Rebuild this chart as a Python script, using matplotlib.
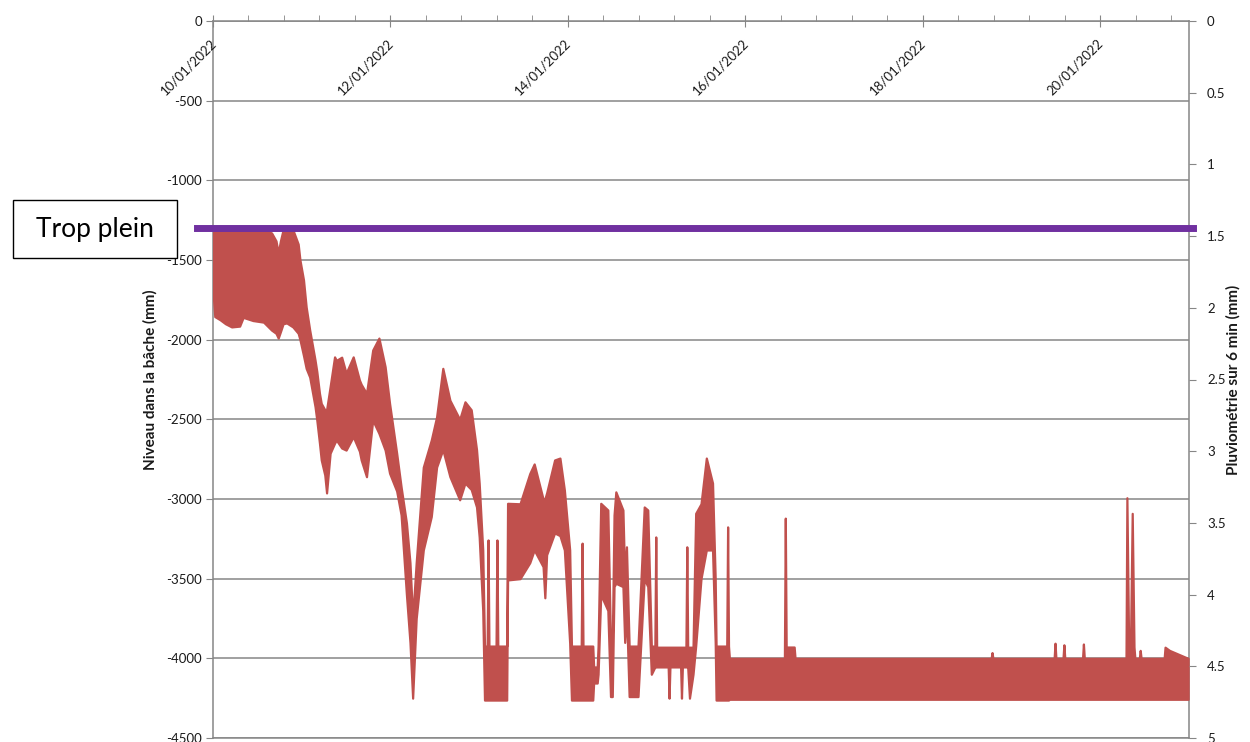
import matplotlib
matplotlib.use('Agg')
import matplotlib.pyplot as plt
import matplotlib.dates as mdates
from matplotlib.patches import Rectangle
from matplotlib.transforms import offset_copy
import numpy as np
from datetime import datetime

plt.rcParams['font.family'] = ['Lato', 'DejaVu Sans']

# Données (jours depuis le 10/01/2022 00:00)
# enveloppe haute / basse du niveau mesuré
debut = datetime(2022, 1, 10)
fin = datetime(2022, 1, 21)

jours = [0.00, 0.02, 0.08, 0.14, 0.21, 0.30, 0.34, 0.45, 0.57, 0.66, 0.71, 0.735, 0.76, 0.79, 0.83, 0.90, 0.96, 0.98,
         1.02, 1.05, 1.09, 1.15, 1.17, 1.20, 1.22, 1.26, 1.28, 1.32, 1.37, 1.39, 1.45, 1.50, 1.58, 1.65, 1.67, 1.73,
         1.80, 1.87, 1.94, 1.99, 2.07, 2.12, 2.18, 2.22, 2.25, 2.29, 2.37, 2.46, 2.52, 2.59, 2.67, 2.78, 2.84, 2.91,
         2.97, 3.00, 3.04, 3.06, 3.09, 3.10, 3.11, 3.19, 3.20, 3.21, 3.31, 3.32, 3.46, 3.57, 3.62, 3.72, 3.74, 3.76,
         3.85, 3.91, 3.96, 4.02, 4.04, 4.15, 4.16, 4.17, 4.28, 4.29, 4.33, 4.34, 4.37, 4.45, 4.48, 4.50, 4.52, 4.54,
         4.62, 4.64, 4.66, 4.69, 4.79, 4.86, 4.90, 4.94, 4.98, 4.99, 5.00, 5.13, 5.14, 5.15, 5.27, 5.28, 5.29, 5.33,
         5.34, 5.35, 5.37, 5.41, 5.44, 5.50, 5.56, 5.63, 5.66, 5.67, 5.79, 5.80, 5.81,
         5.82, 6.44, 6.45, 6.46, 6.55, 6.56, 8.77, 8.78, 8.79, 9.48, 9.49, 9.50, 9.58, 9.59, 9.60,
         9.80, 9.81, 9.82, 10.29, 10.30, 10.32, 10.34, 10.36, 10.38, 10.39, 10.44, 10.45, 10.46,
         10.72, 10.73, 10.78, 10.99]

niveau_haut = [-1310, -1310, -1310, -1310, -1310, -1310, -1310, -1310, -1310, -1330, -1380, -1456, -1380, -1310, -1310, -1310, -1400, -1500,
               -1625, -1795, -1940, -2128, -2200, -2337, -2400, -2440, -2440, -2295, -2108, -2130, -2110, -2210, -2108, -2253, -2280, -2337,
               -2065, -1990, -2170, -2400, -2713, -2924, -3150, -3400, -3750, -3400, -2800, -2630, -2485, -2180, -2380, -2500, -2390, -2440,
               -2690, -2900, -3320, -3923, -3923, -3257, -3923, -3923, -3257, -3923, -3923, -3027, -3030, -2840, -2780, -3000, -3000, -2962,
               -2755, -2743, -2943, -3320, -3923, -3923, -3277, -3923, -3923, -4054, -4054, -3923, -3027, -3069, -3900, -3900, -3100, -2955,
               -3069, -3500, -3300, -3923, -3923, -3050, -3069, -3923, -3923, -3238, -3930, -3930, -3930, -3930, -3930, -3930, -3930, -3930,
               -3300, -3930, -3930, -3930, -3090, -3030, -2743, -2900, -3500, -3923, -3923, -3175, -3923,
               -4000, -4000, -3120, -3929, -3929, -4000, -4000, -3964, -4000, -4000, -3905, -4000, -4000, -3915, -4000,
               -4000, -3910, -4000, -4000, -2992, -3929, -3929, -3090, -3929, -4000, -4000, -3950, -4000,
               -4000, -3930, -3950, -4000]

niveau_bas = [-1700, -1855, -1875, -1900, -1920, -1915, -1860, -1880, -1890, -1940, -1960, -1990, -1950, -1900, -1895, -1920, -1960, -2000,
              -2100, -2180, -2235, -2420, -2505, -2650, -2755, -2850, -2962, -2713, -2650, -2630, -2680, -2693, -2609, -2700, -2755, -2860,
              -2505, -2588, -2693, -2838, -2950, -3100, -3600, -3900, -4250, -3750, -3320, -3110, -2800, -2690, -2860, -3005, -2900, -2940,
              -3050, -3238, -3700, -4262, -4262, -4262, -4262, -4262, -4262, -4262, -4262, -3508, -3500, -3400, -3320, -3425, -3620, -3350,
              -3213, -3230, -3320, -3905, -4262, -4262, -4262, -4262, -4262, -4155, -4155, -4100, -3600, -3700, -4240, -4240, -3550, -3529,
              -3550, -3900, -3700, -4240, -4240, -3500, -3550, -4100, -4054, -4054, -4054, -4054, -4250, -4054, -4054, -4250, -4054, -4054,
              -4054, -4054, -4250, -4100, -3923, -3500, -3320, -3320, -3900, -4262, -4262, -4262, -4262,
              -4257, -4257, -4257, -4257, -4257, -4257, -4257, -4257, -4257, -4257, -4257, -4257, -4257, -4257, -4257,
              -4257, -4257, -4257, -4257, -4257, -4257, -4257, -4257, -4257, -4257, -4257, -4257, -4257,
              -4257, -4257, -4257, -4257]

trop_plein = -1300
etiquettes_dates = ['10/01/2022', '12/01/2022', '14/01/2022', '16/01/2022', '18/01/2022', '20/01/2022']

rouge = '#C0504D'
violet = '#7030A0'
gris = '#868686'
texte = '#1a1a1a'

fig = plt.figure(figsize=(12.5, 7.42), dpi=100)
ax = fig.add_axes([213 / 1250, 1 - 738 / 742, (1189 - 213) / 1250, (738 - 21) / 742])

x = mdates.date2num(debut) + np.array(jours)
ax.fill_between(x, niveau_bas, niveau_haut, color=rouge, edgecolor=rouge, linewidth=1.6, zorder=3)

# trait du trop plein, qui dépasse un peu des axes
ax.axhline(trop_plein, xmin=-0.016, xmax=1.004, color=violet, linewidth=5, clip_on=False, zorder=4)

ax.set_xlim(mdates.date2num(debut), mdates.date2num(fin))
ax.set_ylim(-4500, 0)
ax.set_yticks(np.arange(-4500, 1, 500))
ax.set_yticklabels([str(v) for v in range(-4500, 1, 500)])
ax.yaxis.grid(True, color=gris, linewidth=1.1)
ax.set_axisbelow(True)

majeurs = mdates.date2num(debut) + np.arange(0, 11, 2)
mineurs = mdates.date2num(debut) + np.arange(0, 11.01, 0.4)
ax.set_xticks(majeurs)
ax.set_xticks(mineurs, minor=True)
ax.tick_params(axis='x', which='major', top=True, bottom=False, labeltop=False, labelbottom=False,
               direction='inout', length=8, color=gris)
ax.tick_params(axis='x', which='minor', top=True, bottom=False, direction='out', length=4, color=gris)
ax.tick_params(axis='y', direction='out', length=5, color=gris, labelsize=9.5, labelcolor=texte, pad=3)

trans = offset_copy(ax.get_xaxis_transform(), fig=fig, x=1, y=-20, units='dots')
for d, lab in zip(majeurs, etiquettes_dates):
    ax.text(d, 1.0, lab, transform=trans, rotation=45, rotation_mode='anchor',
            ha='right', va='center', fontsize=9.5, color=texte)

for s in ax.spines.values():
    s.set_color(gris)
    s.set_linewidth(1.1)

ax.set_ylabel('Niveau dans la bâche (mm)', fontsize=11, fontweight='bold', color=texte, labelpad=6)

ax2 = ax.twinx()
ax2.set_ylim(5, 0)
ax2.set_yticks(np.arange(0, 5.01, 0.5))
ax2.set_yticklabels(['%g' % v for v in np.arange(0, 5.01, 0.5)])
ax2.tick_params(axis='y', direction='out', length=5, color=gris, labelsize=9.5, labelcolor=texte, pad=8)
for s in ax2.spines.values():
    s.set_visible(False)
ax2.set_ylabel('Pluviométrie sur 6 min (mm)', fontsize=11, fontweight='bold', color=texte, labelpad=0)

# encadré "Trop plein"
fig.add_artist(Rectangle((13 / 1250, 1 - 258 / 742), 164 / 1250, 58 / 742, transform=fig.transFigure,
                         facecolor='white', edgecolor='black', linewidth=1.0, zorder=5))
fig.text(95 / 1250, 1 - 229 / 742, 'Trop plein', ha='center', va='center', fontsize=19, color='black', zorder=6)

fig.savefig('out.png', dpi=100)
